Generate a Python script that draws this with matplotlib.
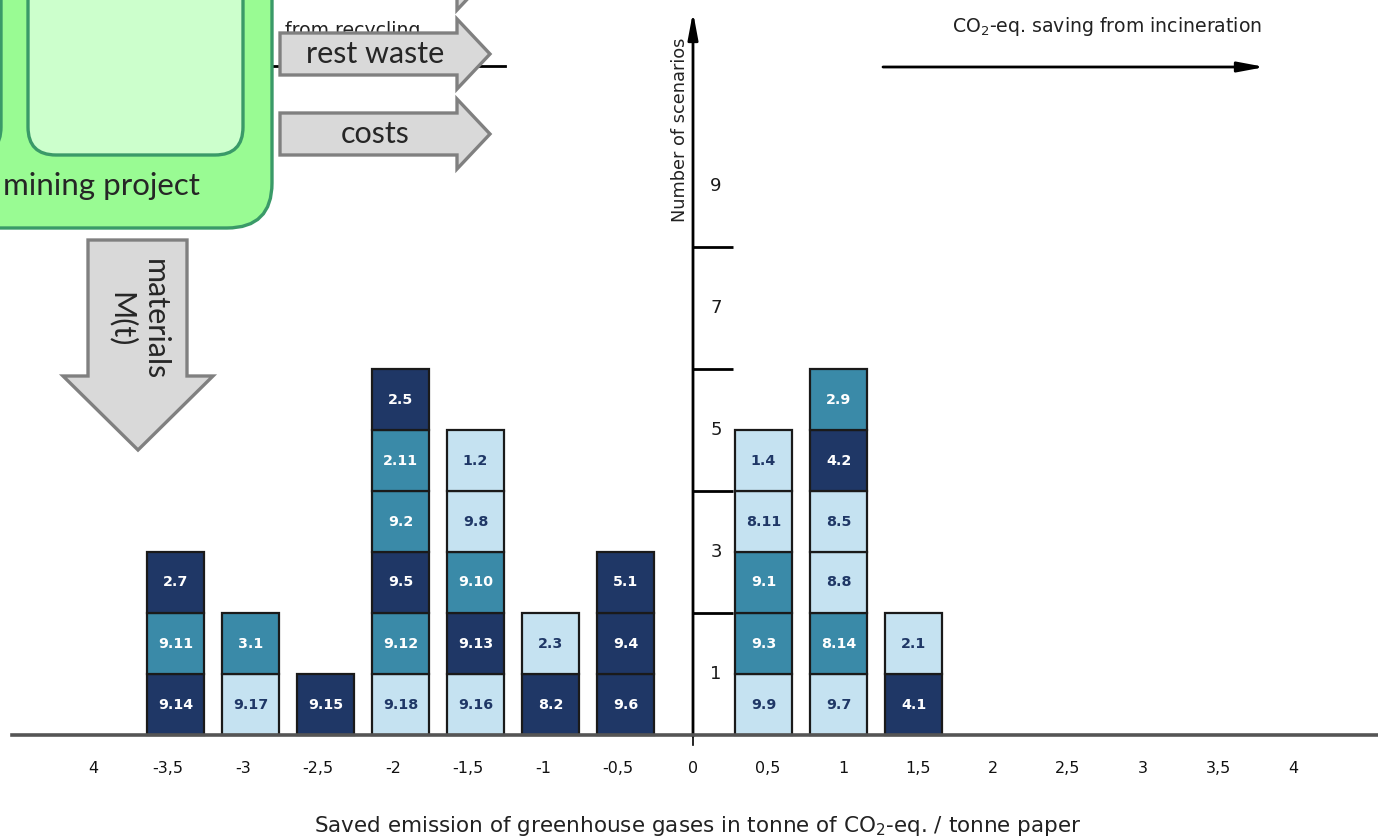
import numpy as np
import matplotlib
matplotlib.use('Agg')
import matplotlib.pyplot as plt
from matplotlib.patches import FancyBboxPatch, Polygon

# --- data ---
positions = [-3.5, -3, -2.5, -2, -1.5, -1, -0.5, 0.5, 1, 1.5]
scenarios = [
    ['9.14', '9.11', '2.7'],
    ['9.17', '3.1'],
    ['9.15'],
    ['9.18', '9.12', '9.5', '9.2', '2.11', '2.5'],
    ['9.16', '9.13', '9.10', '9.8', '1.2'],
    ['8.2', '2.3'],
    ['9.6', '9.4', '5.1'],
    ['9.9', '9.3', '9.1', '8.11', '1.4'],
    ['9.7', '8.14', '8.8', '8.5', '4.2', '2.9'],
    ['4.1', '2.1'],
]
# d = dark navy, t = teal, l = light blue
groups = [
    ['d', 't', 'd'],
    ['l', 't'],
    ['d'],
    ['l', 't', 'd', 't', 't', 'd'],
    ['l', 'd', 't', 'l', 'l'],
    ['d', 'l'],
    ['d', 'd', 'd'],
    ['l', 't', 't', 'l', 'l'],
    ['l', 't', 'l', 'l', 'd', 't'],
    ['d', 'l'],
]
xtick_values = np.arange(-4, 4.01, 0.5)
xtick_labels = ['4', '-3,5', '-3', '-2,5', '-2', '-1,5', '-1', '-0,5', '0',
                '0,5', '1', '1,5', '2', '2,5', '3', '3,5', '4']
ytick_lines = [2, 4, 6, 8]
ytick_labels = [1, 3, 5, 7, 9]

colors = {'d': '#1f3766', 't': '#3a8aa8', 'l': '#c5e2f1'}
text_colors = {'d': 'white', 't': 'white', 'l': '#1f3766'}

W, H = 1378, 838
X0, SX = 693, 150.0   # pixel of x=0, pixels per unit
Y0, SY = 735, 61.0    # pixel of y=0, pixels per scenario

fig = plt.figure(figsize=(W / 100, H / 100), dpi=100)
ax = fig.add_axes([0, 0, 1, 1])
ax.set_xlim(-X0 / SX, (W - X0) / SX)
ax.set_ylim(-(H - Y0) / SY, Y0 / SY)
ax.axis('off')

# --- stacked scenario bars ---
for pos, labels, kinds in zip(positions, scenarios, groups):
    xb = pos + (0.05 if pos < 0 else -0.03)
    for i, (lab, k) in enumerate(zip(labels, kinds)):
        ax.bar(xb, 1, bottom=i, width=0.38, color=colors[k],
               edgecolor='#1a1a1a', linewidth=1.6, zorder=2)
        ax.text(xb, i + 0.5, lab, ha='center', va='center', fontsize=10.3,
                fontweight='bold', color=text_colors[k], zorder=3)

# baseline and axes
ax.plot([(12 - X0) / SX, (W - X0) / SX], [0, 0], color='#555555', lw=2.6, zorder=4)
ax.plot([0, 0], [0, -10 / SY], color='black', lw=1.2)
ax.annotate('', xy=(0, (Y0 - 12) / SY), xytext=(0, -0.02),
            arrowprops=dict(arrowstyle='-|>,head_length=1.6,head_width=0.3',
                            color='black', lw=2, shrinkA=0, shrinkB=0))
ax.hlines(ytick_lines, 0, 40 / SX, color='black', lw=2)
for v in ytick_labels:
    ax.text(23 / SX, v, str(v), ha='center', va='center', fontsize=13,
            color='#1a1a1a')
ax.text(-13 / SX, 9.92, 'Number of scenarios', rotation=90, ha='center',
        va='center', fontsize=12.8, color='#222222')

for v, lab in zip(xtick_values, xtick_labels):
    ax.text(v, -33 / SY, lab, ha='center', va='center', fontsize=11.5,
            color='#111111')
ax.text(0.03, -91 / SY,
        r'Saved emission of greenhouse gases in tonne of CO$_2$-eq. / tonne paper',
        ha='center', va='center', fontsize=15.5, color='#222222')

# incineration / recycling arrows
ax.annotate('', xy=((1265 - X0) / SX, (Y0 - 67) / SY),
            xytext=((883 - X0) / SX, (Y0 - 67) / SY),
            arrowprops=dict(arrowstyle='-|>,head_length=1.6,head_width=0.3',
                            color='black', lw=2, shrinkA=0, shrinkB=0))
ax.text((1262 - X0) / SX, (Y0 - 26) / SY, r'CO$_2$-eq. saving from incineration',
        ha='right', va='center', fontsize=13.6, color='#222222')
ax.plot([(200 - X0) / SX, (505 - X0) / SX], [(Y0 - 66) / SY] * 2, color='black', lw=2)
ax.text((285 - X0) / SX, (Y0 - 31) / SY, 'from recycling',
        ha='left', va='center', fontsize=13.6, color='#222222')

# --- overlaid diagram fragment (pixel coordinates) ---
ov = fig.add_axes([0, 0, 1, 1], zorder=5)
ov.set_xlim(0, W)
ov.set_ylim(H, 0)
ov.axis('off')

green_edge = '#3a9a68'
ov.add_patch(FancyBboxPatch((-150, -150), 422, 378,
                            boxstyle='round,pad=0,rounding_size=45',
                            fc='#99fb93', ec=green_edge, lw=2.4))
for bx0, bx1 in [(-250, 1), (28, 243)]:
    ov.add_patch(FancyBboxPatch((bx0, -150), bx1 - bx0, 305,
                                boxstyle='round,pad=0,rounding_size=28',
                                fc='#ccffcc', ec=green_edge, lw=2.4))
diag_font = ['Lato', 'DejaVu Sans']
ov.text(200, 186, 'mining project', ha='right', va='center', fontsize=22.5,
        family=diag_font, color='#262626')

arrow_fc, arrow_ec = '#d9d9d9', '#808080'


def right_arrow(yc, label):
    pts = [(280, yc - 21), (457, yc - 21), (457, yc - 35), (490, yc),
           (457, yc + 35), (457, yc + 21), (280, yc + 21)]
    ov.add_patch(Polygon(pts, closed=True, fc=arrow_fc, ec=arrow_ec, lw=2.4))
    if label:
        ov.text(375, yc, label, ha='center', va='center', fontsize=22,
                family=diag_font, color='#262626')


right_arrow(-25, '')
right_arrow(54, 'rest waste')
right_arrow(134, 'costs')

pts = [(88, 240), (187, 240), (187, 376), (213, 376), (138, 450),
       (63, 376), (88, 376)]
ov.add_patch(Polygon(pts, closed=True, fc=arrow_fc, ec=arrow_ec, lw=2.4))
ov.text(138, 320, 'materials\nM(t)', rotation=270, ha='center', va='center',
        multialignment='center', fontsize=22, family=diag_font,
        color='#262626', linespacing=1.2)

fig.savefig('out.png', dpi=100)
